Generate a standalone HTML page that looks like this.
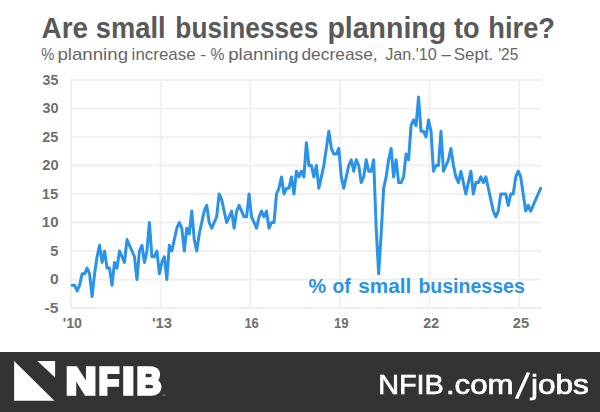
<!DOCTYPE html>
<html><head><meta charset="utf-8"><title>Are small businesses planning to hire?</title>
<style>
html,body{margin:0;padding:0;background:#fff;}
svg{display:block}
text{font-family:"Liberation Sans",sans-serif;}
</style></head><body>
<svg width="600" height="412" viewBox="0 0 600 412">
<rect width="600" height="412" fill="#fff"/>
<text y="37.80" font-size="29.0" font-weight="bold" fill="#595959"><tspan x="41.56" textLength="46.43" lengthAdjust="spacingAndGlyphs">Are</tspan> <tspan x="95.85" textLength="69.76" lengthAdjust="spacingAndGlyphs">small</tspan> <tspan x="175.36" textLength="142.90" lengthAdjust="spacingAndGlyphs">businesses</tspan> <tspan x="327.42" textLength="118.81" lengthAdjust="spacingAndGlyphs">planning</tspan> <tspan x="454.00" textLength="25.59" lengthAdjust="spacingAndGlyphs">to</tspan> <tspan x="488.29" textLength="66.73" lengthAdjust="spacingAndGlyphs">hire?</tspan></text>
<text y="60.10" font-size="16.6" fill="#666"><tspan x="41.34" textLength="13.10" lengthAdjust="spacingAndGlyphs">%</tspan> <tspan x="57.43" textLength="70.62" lengthAdjust="spacingAndGlyphs">planning</tspan> <tspan x="131.64" textLength="64.05" lengthAdjust="spacingAndGlyphs">increase</tspan> <tspan x="200.01" textLength="6.27" lengthAdjust="spacingAndGlyphs">-</tspan> <tspan x="210.51" textLength="13.96" lengthAdjust="spacingAndGlyphs">%</tspan> <tspan x="228.24" textLength="70.41" lengthAdjust="spacingAndGlyphs">planning</tspan> <tspan x="301.46" textLength="76.24" lengthAdjust="spacingAndGlyphs">decrease,</tspan> <tspan x="385.15" textLength="51.66" lengthAdjust="spacingAndGlyphs">Jan.'10</tspan> <tspan x="441.50" textLength="9.39" lengthAdjust="spacingAndGlyphs">–</tspan> <tspan x="453.77" textLength="39.56" lengthAdjust="spacingAndGlyphs">Sept.</tspan> <tspan x="498.18" textLength="20.15" lengthAdjust="spacingAndGlyphs">'25</tspan></text>
<g stroke="#f0f0f0" stroke-width="2" fill="none"><line x1="70.05" x2="542.0" y1="308.00" y2="308.00"/><line x1="70.05" x2="542.0" y1="279.50" y2="279.50"/><line x1="70.05" x2="542.0" y1="251.00" y2="251.00"/><line x1="70.05" x2="542.0" y1="222.50" y2="222.50"/><line x1="70.05" x2="542.0" y1="194.00" y2="194.00"/><line x1="70.05" x2="542.0" y1="165.50" y2="165.50"/><line x1="70.05" x2="542.0" y1="137.00" y2="137.00"/><line x1="70.05" x2="542.0" y1="108.50" y2="108.50"/><line x1="70.05" x2="542.0" y1="80.00" y2="80.00"/><line x1="71.05" x2="71.05" y1="80.00" y2="308.00"/><line x1="160.64" x2="160.64" y1="80.00" y2="308.00"/><line x1="250.23" x2="250.23" y1="80.00" y2="308.00"/><line x1="339.82" x2="339.82" y1="80.00" y2="308.00"/><line x1="429.41" x2="429.41" y1="80.00" y2="308.00"/><line x1="519.00" x2="519.00" y1="80.00" y2="308.00"/></g>
<g font-size="13.9" font-weight="bold" fill="#707070"><text x="44.51" y="312.90" textLength="13.88" lengthAdjust="spacingAndGlyphs">-5</text><text x="49.91" y="284.40" textLength="8.73" lengthAdjust="spacingAndGlyphs">0</text><text x="50.17" y="255.90" textLength="8.20" lengthAdjust="spacingAndGlyphs">5</text><text x="41.86" y="227.40" textLength="16.75" lengthAdjust="spacingAndGlyphs">10</text><text x="41.87" y="198.90" textLength="16.50" lengthAdjust="spacingAndGlyphs">15</text><text x="42.34" y="170.40" textLength="16.25" lengthAdjust="spacingAndGlyphs">20</text><text x="42.35" y="141.90" textLength="16.01" lengthAdjust="spacingAndGlyphs">25</text><text x="42.58" y="113.40" textLength="16.01" lengthAdjust="spacingAndGlyphs">30</text><text x="42.58" y="84.90" textLength="15.77" lengthAdjust="spacingAndGlyphs">35</text></g>
<g font-size="13.9" font-weight="bold" fill="#707070"><text x="62.78" y="327.50" textLength="19.25" lengthAdjust="spacingAndGlyphs">'10</text><text x="151.97" y="327.50" textLength="20.07" lengthAdjust="spacingAndGlyphs">'13</text><text x="244.41" y="327.50" textLength="14.43" lengthAdjust="spacingAndGlyphs">16</text><text x="334.01" y="327.50" textLength="14.65" lengthAdjust="spacingAndGlyphs">19</text><text x="423.35" y="327.50" textLength="15.80" lengthAdjust="spacingAndGlyphs">22</text><text x="512.80" y="327.50" textLength="16.32" lengthAdjust="spacingAndGlyphs">25</text></g>
<polyline points="72.15,285.20 74.64,285.20 77.13,290.90 79.63,285.20 82.12,273.80 84.61,273.80 87.10,268.10 89.59,273.80 92.09,296.60 94.58,273.80 97.07,256.70 99.56,245.30 102.05,262.40 104.55,251.00 107.04,268.10 109.53,268.10 112.02,285.20 114.51,262.40 117.01,268.10 119.50,251.00 121.99,256.70 124.48,262.40 126.97,239.60 129.47,245.30 131.96,251.00 134.45,256.70 136.94,279.50 139.43,251.00 141.93,245.30 144.42,262.40 146.91,251.00 149.40,222.50 151.89,256.70 154.39,256.70 156.88,251.00 159.37,273.80 161.86,262.40 164.35,256.70 166.85,279.50 169.34,245.30 171.83,251.00 174.32,239.60 176.81,228.20 179.31,222.50 181.80,228.20 184.29,251.00 186.78,228.20 189.27,233.90 191.77,211.10 194.26,239.60 196.75,251.00 199.24,233.90 201.73,222.50 204.23,211.10 206.72,205.40 209.21,222.50 211.70,228.20 214.19,222.50 216.69,216.80 219.18,194.00 221.67,199.70 224.16,211.10 226.65,222.50 229.15,216.80 231.64,211.10 234.13,228.20 236.62,211.10 239.11,205.40 241.61,211.10 244.10,216.80 246.59,216.80 249.08,194.00 251.57,216.80 254.07,222.50 256.56,228.20 259.05,216.80 261.54,211.10 264.03,216.80 266.53,211.10 269.02,228.20 271.51,222.50 274.00,222.50 276.49,194.00 278.99,188.30 281.48,176.90 283.97,194.00 286.46,188.30 288.95,188.30 291.45,176.90 293.94,194.00 296.43,171.20 298.92,176.90 301.41,171.20 303.91,176.90 306.40,142.70 308.89,165.50 311.38,165.50 313.87,176.90 316.37,165.50 318.86,188.30 321.35,176.90 323.84,165.50 326.33,148.40 328.83,131.30 331.32,148.40 333.81,154.10 336.30,154.10 338.79,148.40 341.29,176.90 343.78,188.30 346.27,176.90 348.76,165.50 351.25,159.80 353.75,171.20 356.24,159.80 358.73,165.50 361.22,182.60 363.71,176.90 366.21,159.80 368.70,171.20 371.19,171.20 373.68,159.80 376.17,228.20 378.67,273.80 381.16,233.90 383.65,188.30 386.14,176.90 388.63,159.80 391.13,148.40 393.62,176.90 396.11,159.80 398.60,182.60 401.09,182.60 403.59,176.90 406.08,154.10 408.57,159.80 411.06,125.60 413.55,119.90 416.05,125.60 418.54,97.10 421.03,131.30 423.52,131.30 426.01,137.00 428.51,119.90 431.00,131.30 433.49,171.20 435.98,165.50 438.47,165.50 440.97,131.30 443.46,171.20 445.95,165.50 448.44,159.80 450.93,148.40 453.43,165.50 455.92,176.90 458.41,182.60 460.90,171.20 463.39,182.60 465.89,194.00 468.38,182.60 470.87,171.20 473.36,194.00 475.85,182.60 478.35,182.60 480.84,176.90 483.33,182.60 485.82,176.90 488.31,188.30 490.81,199.70 493.30,211.10 495.79,216.80 498.28,211.10 500.77,194.00 503.27,194.00 505.76,194.00 508.25,205.40 510.74,194.00 513.23,194.00 515.73,176.90 518.22,171.20 520.71,176.90 523.20,194.00 525.69,211.10 528.19,205.40 530.68,211.10 533.17,205.40 535.66,199.70 538.15,194.00 540.65,188.30" fill="none" stroke="#2a92e8" stroke-width="3" stroke-linejoin="round" stroke-linecap="round"/>
<text y="292.70" font-size="20.7" font-weight="bold" fill="#2a92e8"><tspan x="308.49" textLength="17.59" lengthAdjust="spacingAndGlyphs">%</tspan> <tspan x="332.60" textLength="18.20" lengthAdjust="spacingAndGlyphs">of</tspan> <tspan x="358.15" textLength="53.07" lengthAdjust="spacingAndGlyphs">small</tspan> <tspan x="418.38" textLength="106.41" lengthAdjust="spacingAndGlyphs">businesses</tspan></text>
<rect x="0" y="352" width="600" height="60" fill="#333"/>
<polygon points="14.1,361.1 14.1,400.7 54.4,400.7" fill="#fff"/>
<polygon points="37.4,361.1 55.1,361.1 55.1,377.6" fill="#fff"/>
<defs><filter id="idf" x="0" y="0" width="100%" height="100%" filterUnits="userSpaceOnUse"><feOffset dx="0" dy="0"/></filter></defs><g filter="url(#idf)"><text y="393.60" font-size="36.81" font-weight="bold" fill="#fff" stroke="#fff" stroke-width="3.6" stroke-linejoin="miter"><tspan x="65.99" textLength="30.16" lengthAdjust="spacingAndGlyphs">N</tspan><tspan x="98.63" textLength="20.26" lengthAdjust="spacingAndGlyphs">F</tspan><tspan x="122.50" textLength="11.56" lengthAdjust="spacingAndGlyphs">I</tspan><tspan x="136.68" textLength="24.50" lengthAdjust="spacingAndGlyphs">B</tspan></text>
<text y="393.7" font-size="27.6" fill="#fff" stroke="#fff" stroke-width="0.7"><tspan x="378.20" textLength="65.66" lengthAdjust="spacingAndGlyphs">NFIB</tspan><tspan x="445.91" textLength="67.66" lengthAdjust="spacingAndGlyphs">.com</tspan><tspan x="515.3" y="397.9" font-size="37.2" rotate="9.3" stroke-width="0.3">/</tspan><tspan x="530.94" y="393.7" textLength="57.90" lengthAdjust="spacingAndGlyphs">jobs</tspan></text>
<text x="162.3" y="396.6" font-size="3.6" fill="#bbb">™</text></g>
</svg>
</body></html>
